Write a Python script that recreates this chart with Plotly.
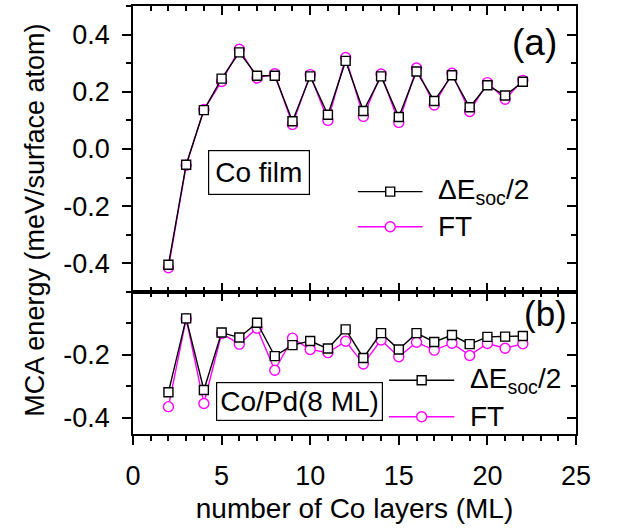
import plotly.graph_objects as go

# Number of Co layers (ML)
layers = list(range(2, 23))

# (a) free-standing Co film: MCA energy (meV/surface atom)
film_desoc = [-0.405, -0.055, 0.136, 0.246, 0.338, 0.256, 0.256, 0.097, 0.254, 0.120,
              0.308, 0.133, 0.254, 0.112, 0.271, 0.168, 0.258, 0.146, 0.223, 0.187, 0.235]
film_ft = [-0.415, -0.057, 0.138, 0.236, 0.349, 0.248, 0.263, 0.086, 0.260, 0.100,
           0.320, 0.114, 0.262, 0.093, 0.283, 0.154, 0.265, 0.131, 0.232, 0.174, 0.240]

# (b) Co on Pd(8 ML)
pd_desoc = [-0.319, -0.084, -0.312, -0.129, -0.145, -0.098, -0.204, -0.169, -0.156, -0.180,
            -0.119, -0.210, -0.131, -0.183, -0.131, -0.159, -0.137, -0.166, -0.143, -0.142, -0.140]
pd_ft = [-0.365, -0.085, -0.355, -0.132, -0.166, -0.115, -0.249, -0.147, -0.183, -0.193,
         -0.157, -0.229, -0.153, -0.206, -0.160, -0.185, -0.163, -0.202, -0.164, -0.179, -0.165]

# Tick labels
x_ticks = [0, 5, 10, 15, 20, 25]
y_top_ticks = [-0.4, -0.2, 0.0, 0.2, 0.4]
y_top_labels = ["-0.4", "-0.2", "0.0", "0.2", "0.4"]
y_bot_ticks = [-0.4, -0.2]
y_bot_labels = ["-0.4", "-0.2"]

FONT = "Liberation Sans, Arial, sans-serif"
MAGENTA = "#FF00FF"
BLACK = "#000000"
TICK_FS = 27
TEXT_FS = 28
SPLIT = 0.3318

fig = go.Figure()


def add_pair(xa, ya, desoc, ft):
    fig.add_trace(go.Scatter(
        x=layers, y=ft, xaxis=xa, yaxis=ya, mode="lines+markers",
        line=dict(color=MAGENTA, width=1.4),
        marker=dict(symbol="circle", size=10, color="white",
                    line=dict(color=MAGENTA, width=1.4)),
        showlegend=False))
    fig.add_trace(go.Scatter(
        x=layers, y=desoc, xaxis=xa, yaxis=ya, mode="lines+markers",
        line=dict(color=BLACK, width=1.4),
        marker=dict(symbol="square", size=9, color="white",
                    line=dict(color=BLACK, width=1.4)),
        showlegend=False))


add_pair("x", "y", film_desoc, film_ft)
add_pair("x2", "y2", pd_desoc, pd_ft)

axis_common = dict(showline=True, linecolor=BLACK, linewidth=1.5, showgrid=False,
                   zeroline=False, tickcolor=BLACK, tickwidth=1.5,
                   tickfont=dict(family=FONT, size=TICK_FS, color=BLACK))


def xax(**kw):
    d = dict(axis_common, range=[0, 25], tickmode="array", tickvals=x_ticks, ticklen=9)
    d.update(kw)
    return d


def minor(ticks, dtick):
    return dict(dtick=dtick, tick0=0, ticks=ticks, ticklen=5, tickwidth=1.5,
                tickcolor=BLACK, showgrid=False)


fig.update_layout(
    width=617, height=531,
    margin=dict(l=133, r=41, t=6, b=97),
    paper_bgcolor="white", plot_bgcolor="white",
    font=dict(family=FONT, size=TICK_FS, color=BLACK),
    # top panel
    xaxis=xax(anchor="y", ticks="inside", showticklabels=False, minor=minor("inside", 1)),
    yaxis=dict(axis_common, domain=[SPLIT, 1], range=[-0.5, 0.5], anchor="x",
               tickmode="array", tickvals=y_top_ticks, ticktext=y_top_labels,
               ticks="outside", ticklen=9, ticklabelstandoff=7,
               minor=minor("outside", 0.1)),
    xaxis3=xax(anchor="y", overlaying="x", side="top", ticks="inside",
               showticklabels=False, minor=minor("inside", 1)),
    yaxis3=dict(axis_common, range=[-0.5, 0.5], anchor="x", overlaying="y", side="right",
                tickmode="array", tickvals=y_top_ticks, ticks="inside", ticklen=9,
                showticklabels=False, minor=minor("inside", 0.1)),
    # bottom panel
    xaxis2=xax(anchor="y2", ticks="outside", minor=minor("outside", 1),
               ticklabelstandoff=8,
               title=dict(text="number of Co layers (ML)",
                          font=dict(family=FONT, size=TEXT_FS), standoff=8)),
    yaxis2=dict(axis_common, domain=[0, SPLIT], range=[-0.452, 0.0], anchor="x2",
                tickmode="array", tickvals=y_bot_ticks, ticktext=y_bot_labels,
                ticks="outside", ticklen=9, ticklabelstandoff=7,
                minor=minor("outside", 0.1)),
    xaxis4=xax(anchor="y2", overlaying="x2", side="top", ticks="inside",
               showticklabels=False, minor=minor("inside", 1)),
    yaxis4=dict(axis_common, range=[-0.452, 0.0], anchor="x2", overlaying="y2", side="right",
                tickmode="array", tickvals=y_bot_ticks, ticks="inside", ticklen=9,
                showticklabels=False, minor=minor("inside", 0.1)),
)

# placeholder traces so the overlay (mirror) axes are drawn
fig.add_trace(go.Scatter(x=[None], y=[None], xaxis="x3", yaxis="y3", showlegend=False,
                         hoverinfo="skip"))
fig.add_trace(go.Scatter(x=[None], y=[None], xaxis="x4", yaxis="y4", showlegend=False,
                         hoverinfo="skip"))

annotations = [
    dict(text="MCA energy (meV/surface atom)", xref="paper", yref="paper",
         x=-0.222, y=0.5, xanchor="center", yanchor="middle", textangle=-90,
         showarrow=False, font=dict(size=27)),
    dict(text="(a)", xref="x", yref="y", x=22.65, y=0.374, showarrow=False,
         font=dict(size=37)),
    dict(text="(b)", xref="x2", yref="y2", x=23.3, y=-0.07, showarrow=False,
         font=dict(size=35)),
    dict(text="Co film", xref="x", yref="y", x=7.09, y=-0.082, showarrow=False,
         bordercolor=BLACK, borderwidth=1.2, borderpad=6, bgcolor="white",
         font=dict(size=TEXT_FS)),
    dict(text="Co/Pd(8 ML)", xref="x2", yref="y2", x=9.40, y=-0.350, showarrow=False,
         bordercolor=BLACK, borderwidth=1.2, borderpad=3, bgcolor="white",
         font=dict(size=TEXT_FS)),
]

shapes = []


def legend_block(xref, yref, x0, x1, xt, y_desoc, y_ft):
    xm = 0.5 * (x0 + x1)
    for yy, col, sym in [(y_desoc, BLACK, "rect"), (y_ft, MAGENTA, "circle")]:
        shapes.append(dict(type="line", xref=xref, yref=yref, x0=x0, x1=x1, y0=yy, y1=yy,
                           line=dict(color=col, width=1.4)))
        half = 4.5 if sym == "rect" else 5
        shapes.append(dict(type=sym, xref=xref, yref=yref, xsizemode="pixel",
                           ysizemode="pixel", xanchor=xm, yanchor=yy,
                           x0=-half, x1=half, y0=-half, y1=half,
                           fillcolor="white", line=dict(color=col, width=1.4)))
    annotations.append(dict(text="\u0394E<sub>soc</sub>/2", xref=xref, yref=yref, x=xt,
                            y=y_desoc, xanchor="left", yanchor="middle", showarrow=False,
                            font=dict(size=TEXT_FS)))
    annotations.append(dict(text="FT", xref=xref, yref=yref, x=xt, y=y_ft,
                            xanchor="left", yanchor="middle", showarrow=False,
                            font=dict(size=TEXT_FS)))


legend_block("x", "y", 12.69, 16.34, 17.1, -0.149, -0.272)
legend_block("x2", "y2", 14.45, 18.13, 18.9, -0.281, -0.397)

fig.update_layout(annotations=annotations, shapes=shapes)

fig.write_html("out.html")
